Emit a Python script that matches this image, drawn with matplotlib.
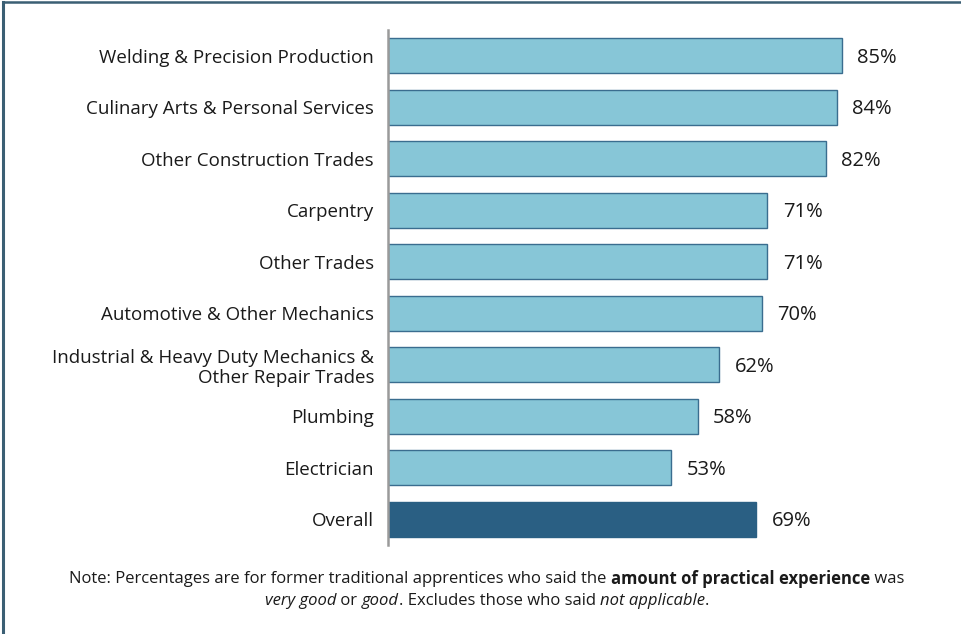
import matplotlib
matplotlib.use("Agg")
import matplotlib.pyplot as plt
from matplotlib.lines import Line2D

plt.rcParams['font.family'] = ['Open Sans', 'DejaVu Sans']

categories = [
    "Welding & Precision Production",
    "Culinary Arts & Personal Services",
    "Other Construction Trades",
    "Carpentry",
    "Other Trades",
    "Automotive & Other Mechanics",
    "Industrial & Heavy Duty Mechanics &\nOther Repair Trades",
    "Plumbing",
    "Electrician",
    "Overall",
]
values = [85, 84, 82, 71, 71, 70, 62, 58, 53, 69]

LIGHT = "#87c6d7"
LIGHT_EDGE = "#3a6d8f"
DARK = "#2a5f83"
FRAME = "#3b5f74"

fig = plt.figure(figsize=(9.62, 6.34), dpi=100)
ax = fig.add_axes([388 / 962, 89 / 634, 534 / 962, 515 / 634])

ypos = list(range(len(categories)))
colors = [LIGHT] * (len(categories) - 1) + [DARK]
edges = [LIGHT_EDGE] * (len(categories) - 1) + [DARK]
ax.barh(ypos, values, height=0.68, color=colors, edgecolor=edges, linewidth=1.0)

for y, v in zip(ypos, values):
    ax.text(v + 2.9, y + 0.04, "{}%".format(v), va="center", ha="left",
            fontsize=14.5, color="#1a1a1a")

ax.set_xlim(0, 100)
ax.set_ylim(len(categories) - 0.5, -0.5)
ax.set_yticks(ypos)
ax.set_yticklabels(categories, fontsize=13.5, color="#1a1a1a", linespacing=1.15)
ax.tick_params(axis="y", length=0, pad=10)
ax.set_xticks([])
for side in ["top", "right", "bottom"]:
    ax.spines[side].set_visible(False)
ax.spines["left"].set_color("#9a9a9a")
ax.spines["left"].set_linewidth(1.8)

# frame lines along the top and left edges
fig.add_artist(Line2D([2.5 / 962, 1], [1 - 2 / 634, 1 - 2 / 634], color=FRAME, lw=1.8))
fig.add_artist(Line2D([2.5 / 962, 2.5 / 962], [0, 1 - 2 / 634], color=FRAME, lw=2.2))

# note with mixed bold / italic runs, centred per line
note_lines = [
    [("Note: Percentages are for former traditional apprentices who said the ", "normal", "normal"),
     ("amount of practical experience", "bold", "normal"),
     (" was", "normal", "normal")],
    [("very good", "normal", "italic"),
     (" or ", "normal", "normal"),
     ("good", "normal", "italic"),
     (". Excludes those who said ", "normal", "normal"),
     ("not applicable", "normal", "italic"),
     (".", "normal", "normal")],
]
note_y = [579, 601]
center_x = 487

fig.canvas.draw()
renderer = fig.canvas.get_renderer()
for line, ypix in zip(note_lines, note_y):
    pieces = []
    x = 0.0
    for txt, weight, style in line:
        t = fig.text(0, 1 - ypix / 634, txt, fontsize=12, fontweight=weight,
                     fontstyle=style, va="center", ha="left", color="#1a1a1a")
        w = t.get_window_extent(renderer).width
        pieces.append((t, x))
        x += w
    start = center_x - x / 2
    for t, off in pieces:
        t.set_x((start + off) / 962)

fig.savefig("out.png", dpi=100)
